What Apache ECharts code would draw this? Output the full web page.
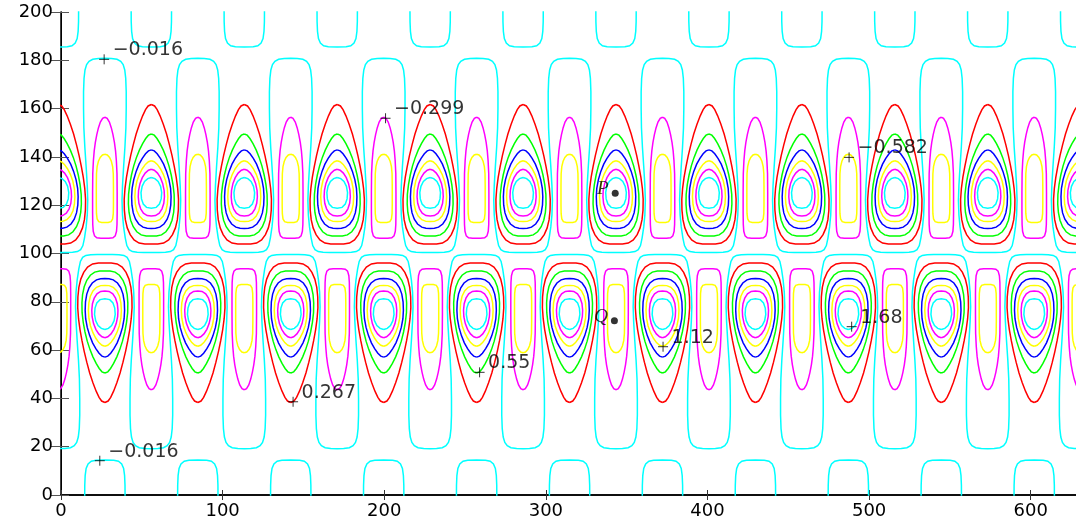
<!DOCTYPE html>
<html>
<head>
<meta charset="utf-8">
<script src="https://cdn.jsdelivr.net/npm/echarts/dist/echarts.min.js"></script>
<style>
html, body { margin: 0; padding: 0; background: #fff; }
#main { width: 1076px; height: 523px; }
</style>
</head>
<body>
<div id="main"></div>
<script>
// contour levels, one colour each (old matlab order y m c r g b)
var levels = [-0.582, -0.299, -0.016, 0.267, 0.55, 0.833, 1.116, 1.399, 1.682];
var levelColors = ['#ffff00', '#ff00ff', '#00ffff', '#ff0000', '#00ff00', '#0000ff', '#ffff00', '#ff00ff', '#00ffff'];

// x of the vortex centres, upper row (y~125) and lower row (y~75)
var upperCenters = [-1.6, 55.9, 113.4, 170.9, 228.4, 285.9, 343.4, 400.9, 458.4, 515.9, 573.4, 630.9];
var lowerCenters = [27.15, 84.65, 142.15, 199.65, 257.15, 314.65, 372.15, 429.65, 487.15, 544.65, 602.15];

// right half of each closed contour round an upper vortex, [half width, y], top to bottom
var lobe0267 = [[0,161.7],[2.0,161.1],[3.6,159.6],[5.4,157],[7.4,153.5],[9.4,149.5],[11.2,145],[12.8,140.5],[14.2,136],[15.4,131.5],[16.3,127],[16.8,122.5],[16.7,118],[16.1,114],[14.9,110.6],[13.1,107.8],[10.7,105.6],[7.6,104.3],[4.0,103.95],[0,103.9]];
var lobe0550 = [[0,149.5],[1.8,149.0],[3.5,147.6],[5.4,145.5],[7.4,142.8],[9.2,139.8],[10.9,136.3],[12.3,132.5],[13.4,128.5],[14.1,124.5],[14.2,120.5],[13.8,117],[12.8,113.8],[11.2,111.1],[9.0,109.0],[6.3,107.7],[3.2,107.25],[0,107.2]];
var lobe0833 = [[0,142.9],[1.8,142.5],[3.6,141.3],[5.6,139.4],[7.6,137],[9.4,134],[10.9,130.6],[11.9,127],[12.2,123.5],[12.0,120],[11.2,116.8],[9.8,114.2],[7.8,112.2],[5.2,110.9],[2.6,110.45],[0,110.4]];
var lobe1116 = [[0,138.4],[1.8,138.0],[3.7,136.9],[5.6,135.1],[7.4,132.8],[8.9,130],[9.9,126.8],[10.2,123.5],[9.9,120.4],[9.0,117.7],[7.4,115.5],[5.2,114.0],[2.6,113.3],[0,113.2]];
var lobe1399 = [[0,134.9],[1.8,134.5],[3.8,133.3],[5.6,131.4],[7.0,129],[7.9,126.2],[8.1,123.5],[7.7,120.8],[6.6,118.5],[4.9,116.7],[2.6,115.7],[0,115.5]];
var lobe1682 = [[0,131.5],[2.2,131.0],[4.2,129.8],[5.7,127.8],[6.4,125.2],[6.1,122.6],[5.0,120.5],[3.0,119.1],[0,118.7]];

// negative cells between two upper vortices
var gap0299 = [[0,156.4],[1.4,156],[2.8,154.4],[4.0,152],[5.0,149.2],[5.9,146],[6.6,142.5],[7.1,138.5],[7.5,133],[7.6,125],[7.6,117],[7.5,112],[7.2,109.2],[6.4,107.3],[5.0,106.5],[2.5,106.3],[0,106.3]];
var gap0582 = [[0,141.1],[1.5,140.8],[2.9,139.8],[4.0,138.2],[4.8,136],[5.2,133],[5.3,128],[5.3,120],[5.2,116.5],[4.8,114.3],[3.8,113.2],[2.0,112.85],[0,112.8]];

// -0.016 line: half a wave, [dx from the gap centre, y], gap centre -> vortex centre
var wave0016 = [[0,180.8],[4,180.75],[7.5,180.4],[9.8,179.6],[11.3,178.2],[12.3,176],[12.9,172.5],[13.2,167],[13.2,160],[13.0,152],[12.4,144],[11.6,136],[10.9,128],[10.6,122],[10.9,116],[11.6,111],[12.6,106.5],[13.6,103.3],[15.0,101.6],[17.0,100.8],[20,100.5],[24,100.4],[28.75,100.4]];
// -0.016 arches at the top edge, over each upper vortex, [half width, y]
var arch0016 = [[12.5,202],[12.45,196],[12.2,192],[11.6,189],[10.4,187.1],[8.4,186],[5.5,185.6],[0,185.5]];

// labelled points
var markNames = ['\u22120.016', '\u22120.016', '\u22120.299', '\u22120.582', '0.267', '0.55', '1.12', '1.68'];
var markX = [26.7, 24.0, 200.8, 487.6, 143.6, 259.0, 372.5, 489.2];
var markY = [180.4, 14.2, 156.0, 139.8, 38.6, 50.8, 61.4, 69.7];
var dotNames = ['P', 'Q'];
var dotX = [342.9, 342.4];
var dotY = [124.9, 72.2];

var xMax = 628, yMax = 200;

function fy(y, flip) { return flip ? yMax - y : y; }

function closedShape(cx, prof, flip) {
    var pts = [];
    for (var i = 0; i < prof.length; i++) pts.push([cx + prof[i][0], fy(prof[i][1], flip)]);
    for (var j = prof.length - 1; j >= 0; j--) pts.push([cx - prof[j][0], fy(prof[j][1], flip)]);
    return pts;
}

function arch(cx, prof, flip) {
    var pts = [];
    for (var i = 0; i < prof.length; i++) pts.push([cx - prof[i][0], fy(prof[i][1], flip)]);
    for (var j = prof.length - 2; j >= 0; j--) pts.push([cx + prof[j][0], fy(prof[j][1], flip)]);
    return pts;
}

function wave(centers, prof, flip) {
    var pts = [];
    centers.forEach(function (b) {
        for (var i = prof.length - 1; i >= 0; i--) pts.push([b - prof[i][0], fy(prof[i][1], flip)]);
        for (var j = 1; j < prof.length; j++) pts.push([b + prof[j][0], fy(prof[j][1], flip)]);
    });
    return pts;
}

// level -> list of polylines
var paths = {};
levels.forEach(function (l) { paths[l] = []; });

var lobes = [[0.267, lobe0267], [0.55, lobe0550], [0.833, lobe0833], [1.116, lobe1116], [1.399, lobe1399], [1.682, lobe1682]];
var gaps = [[-0.299, gap0299], [-0.582, gap0582]];

lobes.forEach(function (lp) {
    upperCenters.forEach(function (c) { paths[lp[0]].push(closedShape(c, lp[1], false)); });
    lowerCenters.forEach(function (c) { paths[lp[0]].push(closedShape(c, lp[1], true)); });
});
gaps.forEach(function (gp) {
    lowerCenters.forEach(function (c) { paths[gp[0]].push(closedShape(c, gp[1], false)); });
    upperCenters.forEach(function (c) { paths[gp[0]].push(closedShape(c, gp[1], true)); });
});
paths[-0.016].push(wave(lowerCenters, wave0016, false));
paths[-0.016].push(wave(upperCenters, wave0016, true));
upperCenters.forEach(function (c) { paths[-0.016].push(arch(c, arch0016, false)); });
lowerCenters.forEach(function (c) { paths[-0.016].push(arch(c, arch0016, true)); });

var series = [];
levels.forEach(function (l, k) {
    series.push({
        type: 'lines',
        coordinateSystem: 'cartesian2d',
        polyline: true,
        clip: true,
        silent: true,
        lineStyle: { color: levelColors[k], width: 1.5, opacity: 1 },
        data: paths[l].map(function (p) { return { coords: p }; })
    });
});

var marks = markNames.map(function (n, i) { return { name: n, value: [markX[i], markY[i]] }; });
series.push({
    type: 'scatter',
    symbol: 'path://M0,5L10,5M5,0L5,10',
    symbolSize: 10,
    silent: true,
    itemStyle: { color: 'rgba(0,0,0,0)', borderColor: '#000', borderWidth: 1 },
    label: {
        show: true,
        position: 'right',
        distance: 3,
        offset: [0, -9],
        formatter: '{b}',
        color: '#000',
        fontFamily: 'DejaVu Sans',
        fontSize: 19
    },
    data: marks,
    z: 5
});

var dots = dotNames.map(function (n, i) { return { name: n, value: [dotX[i], dotY[i]] }; });
series.push({
    type: 'scatter',
    symbol: 'circle',
    symbolSize: 7,
    silent: true,
    itemStyle: { color: '#000' },
    label: {
        show: true,
        position: 'left',
        distance: 3,
        offset: [0, -4],
        formatter: '{b}',
        color: '#000',
        fontFamily: 'Liberation Serif',
        fontStyle: 'italic',
        fontSize: 19
    },
    data: dots,
    z: 5
});

var axisFont = { color: '#000', fontFamily: 'DejaVu Sans', fontSize: 18 };

var option = {
    animation: false,
    backgroundColor: '#fff',
    grid: { left: 61, top: 12, width: 1025, height: 483 },
    xAxis: [{
        type: 'value', min: 0, max: xMax, interval: 100, position: 'bottom',
        axisLine: { lineStyle: { color: '#000', width: 1.5 } },
        axisTick: { inside: true, length: 5, lineStyle: { color: '#333' } },
        axisLabel: Object.assign({ margin: 7, showMaxLabel: false }, axisFont),
        splitLine: { show: false }
    }, {
        type: 'value', min: 0, max: xMax, interval: 100, position: 'top',
        axisLine: { lineStyle: { color: '#000', width: 1.5 } },
        axisTick: { inside: true, length: 5, lineStyle: { color: '#333' } },
        axisLabel: { show: false },
        splitLine: { show: false }
    }],
    yAxis: [{
        type: 'value', min: 0, max: yMax, interval: 20, position: 'left',
        axisLine: { lineStyle: { color: '#000', width: 1.5 } },
        axisTick: { inside: true, length: 8, lineStyle: { color: '#555' } },
        axisLabel: Object.assign({ margin: 8 }, axisFont),
        splitLine: { show: false }
    }, {
        type: 'value', min: 0, max: yMax, interval: 20, position: 'right',
        axisLine: { lineStyle: { color: '#000', width: 1 } },
        axisTick: { inside: true, length: 10, lineStyle: { color: '#555' } },
        axisLabel: { show: false },
        splitLine: { show: false }
    }],
    series: series
};

var chart = echarts.init(document.getElementById('main'));
chart.setOption(option);
</script>
</body>
</html>
